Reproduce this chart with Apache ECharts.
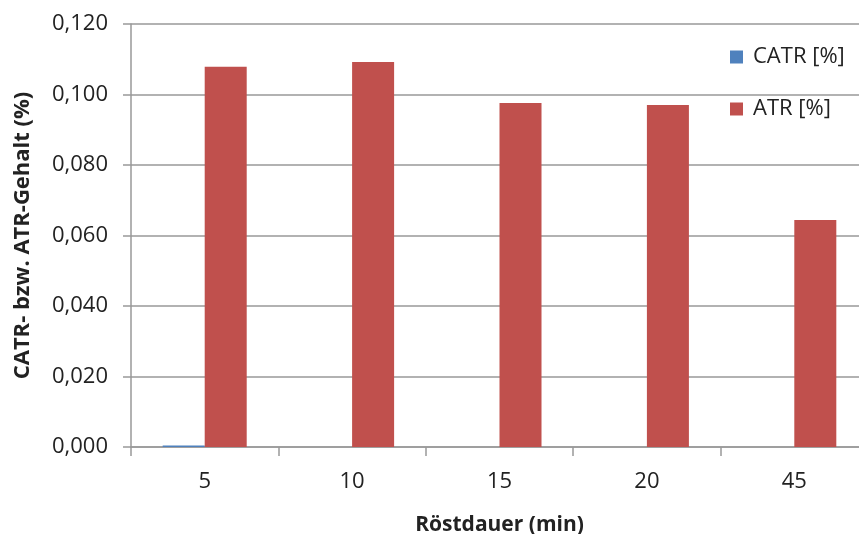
<!DOCTYPE html>
<html><head><meta charset="utf-8">
<script src="https://cdn.jsdelivr.net/npm/echarts@6/dist/echarts.min.js"></script>
<style>html,body{margin:0;padding:0;background:#fff}#c{width:859px;height:534px}</style>
</head><body><div id="c"></div>
<script>
const categories = ['5', '10', '15', '20', '45'];
const catr = [0.0004, 0, 0, 0, 0];
const atr = [0.1079, 0.1092, 0.0976, 0.0970, 0.0644];
const yTicks = {min: 0, max: 0.12, interval: 0.02};

const chart = echarts.init(document.getElementById('c'));
const font = 'Open Sans, Liberation Sans, sans-serif';
chart.setOption({
  animation: false,
  grid: {left: 131, right: -9, top: 24, bottom: 87, containLabel: false, outerBoundsMode: 'none'},
  legend: {
    orient: 'vertical', left: 730, top: 46, padding: 0, itemWidth: 13, itemHeight: 13, itemGap: 30,
    icon: 'rect',
    textStyle: {fontFamily: font, fontSize: 22, color: '#222', padding: [0, 0, 0, 5]},
    data: ['CATR [%]', 'ATR [%]']
  },
  xAxis: {
    type: 'category', data: categories,
    name: 'Röstdauer (min)', nameLocation: 'middle', nameGap: 68,
    nameTextStyle: {fontFamily: font, fontSize: 21, fontWeight: 'bold', color: '#222'},
    axisLine: {lineStyle: {color: '#999', width: 1.5}},
    axisTick: {show: true, length: 9, lineStyle: {color: '#999', width: 1.5}},
    axisLabel: {fontFamily: font, fontSize: 22, color: '#222', margin: 24}
  },
  yAxis: {
    type: 'value', min: yTicks.min, max: yTicks.max, interval: yTicks.interval,
    name: 'CATR- bzw. ATR-Gehalt (%)', nameLocation: 'middle', nameGap: 97,
    nameTextStyle: {fontFamily: font, fontSize: 22, fontWeight: 'bold', color: '#222'},
    axisLine: {show: true, lineStyle: {color: '#999', width: 1.5}},
    axisTick: {show: true, length: 8, lineStyle: {color: '#999', width: 1.5}},
    splitLine: {lineStyle: {color: '#999', width: 1.5}},
    axisLabel: {fontFamily: font, fontSize: 22, color: '#222', margin: 23,
      formatter: v => v.toFixed(3).replace('.', ',')}
  },
  series: [
    {name: 'CATR [%]', type: 'bar', data: catr, barGap: '0%', barCategoryGap: '43%',
     itemStyle: {color: '#4f81bd'}},
    {name: 'ATR [%]', type: 'bar', data: atr, barGap: '0%', barCategoryGap: '43%',
     itemStyle: {color: '#c0504d'}}
  ]
});
</script></body></html>
